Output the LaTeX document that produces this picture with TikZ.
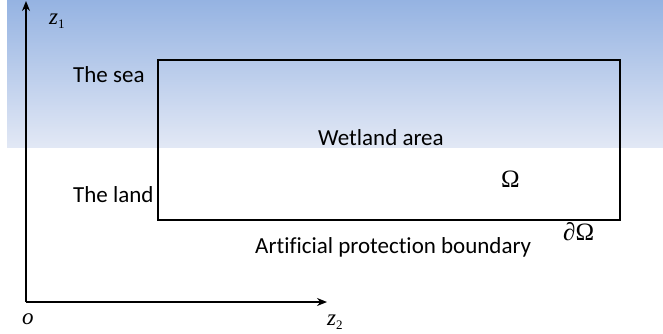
\documentclass[tikz,border=0pt]{standalone}
\usepackage{fontspec}
\setmainfont{Carlito}[Ligatures=NoCommon]
\newfontfamily\tnr{Liberation Serif}
\usepackage{xcolor}
\usetikzlibrary{positioning, arrows.meta}
\definecolor{seatop}{RGB}{149,179,226}
\definecolor{seabot}{RGB}{226,232,245}

\begin{document}
\begin{tikzpicture}[x=1pt, y=-1pt, font=\fontsize{23}{26}\selectfont]
        \tikzset{txt/.style={inner sep=0pt, anchor=base west},
                 sym/.style={inner sep=0pt, anchor=base west, font=\tnr\fontsize{23}{25}\selectfont},
                 axis/.style={-{Stealth[length=10pt,width=8pt]}, line width=1.6pt}}
        \useasboundingbox (0,0) rectangle (663,333);
        \shade[top color=seatop, bottom color=seabot] (7,0) rectangle (663,147);

        \coordinate (o) at (26,302);
        \coordinate (z1end) at (26,1);
        \coordinate (z2end) at (327,302);
        \draw[axis] (o) -- (z1end);
        \draw[axis] (o) -- (z2end);
        \node[sym] (z1) at (49,24) {\itshape z\raisebox{-4pt}{\upshape\fontsize{13}{13}\selectfont 1}};
        \node[sym] (z2) at (327,325) {\itshape z\raisebox{-4pt}{\upshape\fontsize{13}{13}\selectfont 2}};
        \node[sym] (origin) at (22,324) {\itshape o};

        \node[draw, line width=2.8pt, minimum width=462pt, minimum height=160pt, inner sep=0pt] (wet) at (389,140) {};
        \node[txt] (sea) at (73,82) {The sea};
        \node[txt] (land) at (73,202) {The land};
        \node[txt] (area) at (318,145) {Wetland area};
        \node[sym, font=\tnr\fontsize{25}{27}\selectfont] (omega) at (501,187) {Ω};
        \node[sym, font=\tnr\fontsize{25}{27}\selectfont] (bound) at (563,240) {{\itshape ∂}Ω};
        \node[txt] (prot) at (255,253) {Artificial protection boundary};
\end{tikzpicture}
\end{document}
